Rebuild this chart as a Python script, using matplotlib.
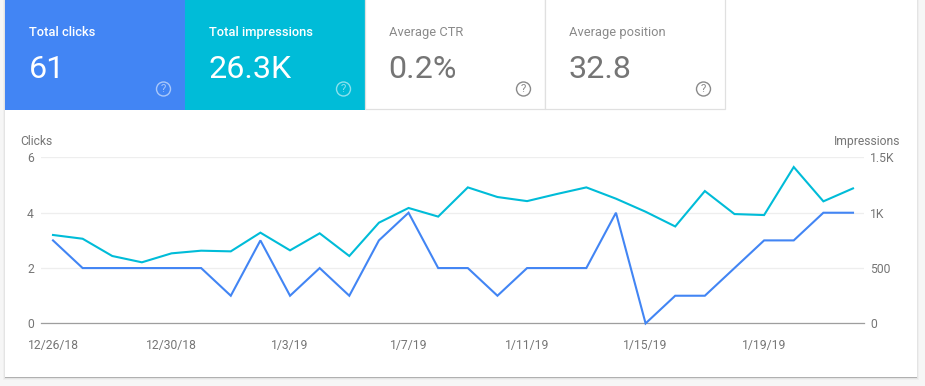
import matplotlib
matplotlib.use("Agg")
import matplotlib.pyplot as plt
from matplotlib.patches import Rectangle, Circle
import pandas as pd

plt.rcParams['font.family'] = ['Roboto', 'DejaVu Sans']

dates = pd.date_range("2018-12-26", "2019-01-22", freq="D")
clicks = [3, 2, 2, 2, 2, 2, 1, 3, 1, 2, 1, 3, 4, 2, 2, 1, 2, 2, 2, 4, 0, 1, 1, 2, 3, 3, 4, 4]
impressions = [799, 765, 609, 552, 633, 657, 651, 820, 660, 814, 609, 910, 1043, 965,
               1229, 1142, 1105, 1169, 1229, 1127, 1009, 876, 1196, 988, 979, 1413, 1103, 1220]
tick_dates = pd.date_range("2018-12-26", "2019-01-19", freq="4D")
tick_labels = ["12/26/18", "12/30/18", "1/3/19", "1/7/19", "1/11/19", "1/15/19", "1/19/19"]
left_ticks = [0, 2, 4, 6]
right_ticks = [0, 500, 1000, 1500]
right_labels = ["0", "500", "1K", "1.5K"]
tiles = [("Total clicks", "61"), ("Total impressions", "26.3K"),
         ("Average CTR", "0.2%"), ("Average position", "32.8")]

W, H = 925, 386
BLUE, TEAL, GREY, BORDER = "#4285f4", "#00bcd8", "#757575", "#e0e0e0"

fig = plt.figure(figsize=(W / 100, H / 100), dpi=100, facecolor="#f6f6f6")

bg = fig.add_axes([0, 0, 1, 1], zorder=0)
bg.set_xlim(0, W)
bg.set_ylim(H, 0)
bg.axis("off")
for side, low, col in [(2, 3, "#efefef"), (1, 2, "#e4e4e4"), (0, 1, "#b0b0b0")]:
    bg.add_patch(Rectangle((5 - side, 0), 912 + 2 * side, 377 + low, fc=col, ec="none"))
bg.add_patch(Rectangle((5, 0), 912, 377, fc="white", ec="none"))

tile_x = [5, 185, 365, 545]
tile_fc = [BLUE, TEAL, "white", "white"]
for (label, value), x, fc in zip(tiles, tile_x, tile_fc):
    filled = fc != "white"
    if filled:
        bg.add_patch(Rectangle((x, 0), 180, 110, fc=fc, ec="none"))
    else:
        bg.add_patch(Rectangle((x - 0.5, -2), 180, 111.3, fc="white", ec=BORDER, lw=0.9))
    bg.text(x + 23.7, 36, label, color="white" if filled else "#8a8a8a", fontsize=9.3,
            fontweight="medium" if filled else "normal", va="baseline")
    bg.text(x + 23.5, 77.7, value, color="white" if filled else GREY, fontsize=23.2, va="baseline")
    icon = "#ffffff" if filled else "#8a8a8a"
    alpha = 0.55 if filled else 1
    bg.add_patch(Circle((x + 158.5, 89), 7, fc="none", ec=icon, lw=1.0, alpha=alpha))
    bg.text(x + 158.5, 89.3, "?", color=icon, alpha=alpha, fontsize=8.2, ha="center", va="center")

bg.text(20.5, 145, "Clicks", color=GREY, fontsize=8.7, va="baseline")
bg.text(900.5, 145, "Impressions", color=GREY, fontsize=8.7, ha="right", va="baseline")

L, R, T, B = 41, 864, 157.4, 323.4
rect = [L / W, 1 - B / H, (R - L) / W, (B - T) / H]

ax2 = fig.add_axes(rect, zorder=1)
ax2.patch.set_visible(False)
ax = fig.add_axes(rect, zorder=2, sharex=ax2)
ax.patch.set_visible(False)

pad_left = pd.Timedelta(days=12 / 29.63)
pad_right = pd.Timedelta(days=11 / 29.63)
ax2.set_xlim(dates[0] - pad_left, dates[-1] + pad_right)

ax2.set_ylim(0, 1500)
ax2.set_yticks(right_ticks, right_labels)
ax2.yaxis.tick_right()
ax2.tick_params(axis="y", length=0, pad=4.3, labelsize=8.7, labelcolor=GREY)
ax2.grid(axis="y", color="#eeeeee", lw=0.9)
ax2.set_axisbelow(True)
ax2.plot(dates, impressions, color=TEAL, lw=1.5, solid_joinstyle="miter", clip_on=False)

ax.set_ylim(0, 6)
ax.set_yticks(left_ticks)
ax.tick_params(axis="y", length=0, pad=5, labelsize=8.7, labelcolor=GREY)
ax.set_xticks(tick_dates, tick_labels)
ax.tick_params(axis="x", length=0, pad=11, labelsize=8.7, labelcolor=GREY)
ax.plot(dates, clicks, color=BLUE, lw=1.5, solid_joinstyle="miter", clip_on=False)
ax2.tick_params(axis="x", labelbottom=False, length=0)

for a in (ax, ax2):
    for s in ("top", "left", "right"):
        a.spines[s].set_visible(False)
ax2.spines["bottom"].set_color("#9e9e9e")
ax2.spines["bottom"].set_linewidth(0.9)
ax.spines["bottom"].set_visible(False)

fig.savefig("out.png", dpi=100, facecolor=fig.get_facecolor())
